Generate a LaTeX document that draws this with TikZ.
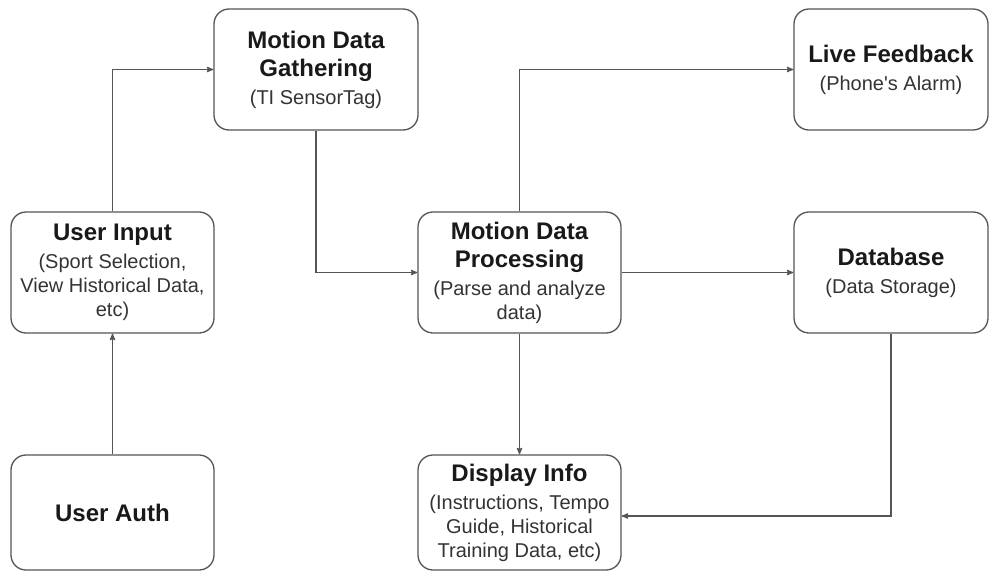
\documentclass[tikz,border=0pt]{standalone}
\usepackage{fontspec}
\setmainfont{Liberation Sans}
\usepackage{tikz}
\usetikzlibrary{arrows}

\definecolor{linegray}{HTML}{555555}
\definecolor{subgray}{HTML}{333333}

\newcommand{\boxtitle}{\fontsize{24}{28}\selectfont\bfseries}
\newcommand{\boxsub}[1]{{\fontsize{20}{24}\selectfont\mdseries\color{subgray}#1}}

\begin{document}
\begin{tikzpicture}[x=1pt, y=-1pt]
    \tikzset{>=stealth'}
    \tikzset{block/.style={draw=linegray, line width=1.3pt, rounded corners=15pt,
        inner sep=0pt, align=center, font=\boxtitle, text=black!90,
        minimum width=203pt, minimum height=121pt}}
    \tikzset{flow/.style={->, draw=linegray, line width=1.3pt}}

    \useasboundingbox (0, 0) rectangle (989, 573);

    % Draw the blocks
    \node[block, minimum height=115pt] (auth) at (112.5, 512.5) {User Auth};
    \node[block] (input) at (112.5, 272.5)
        {User Input\\ \boxsub{(Sport Selection,}\\[-4pt]
         \boxsub{View Historical Data,}\\[-4pt] \boxsub{etc)}};
    \node[block, minimum width=204pt] (gather) at (316, 69.5)
        {Motion Data\\ Gathering\\ \boxsub{(TI SensorTag)}};
    \node[block] (proc) at (519.5, 272.5)
        {Motion Data\\ Processing\\ \boxsub{(Parse and analyze}\\[-4pt] \boxsub{data)}};
    \node[block, minimum width=194pt] (live) at (891, 69.5)
        {Live Feedback\\ \boxsub{(Phone\textquotesingle s Alarm)}};
    \node[block, minimum width=194pt] (db) at (891, 272.5)
        {Database\\ \boxsub{(Data Storage)}};
    \node[block, minimum height=115pt] (disp) at (519.5, 512.5)
        {Display Info\\ \boxsub{(Instructions, Tempo}\\[-4pt]
         \boxsub{Guide, Historical}\\[-4pt] \boxsub{Training Data, etc)}};

    % Draw the connections
    \draw[flow] (auth) -- (input);
    \draw[flow] (input.north) |- (gather.west);
    \draw[flow] (gather.south) |- (proc.west);
    \draw[flow] (proc.north) |- (live.west);
    \draw[flow] (proc) -- (db);
    \draw[flow] (proc) -- (disp);
    \draw[flow] (db.south) |- ([yshift=-3.5pt]disp.east);
\end{tikzpicture}
\end{document}
